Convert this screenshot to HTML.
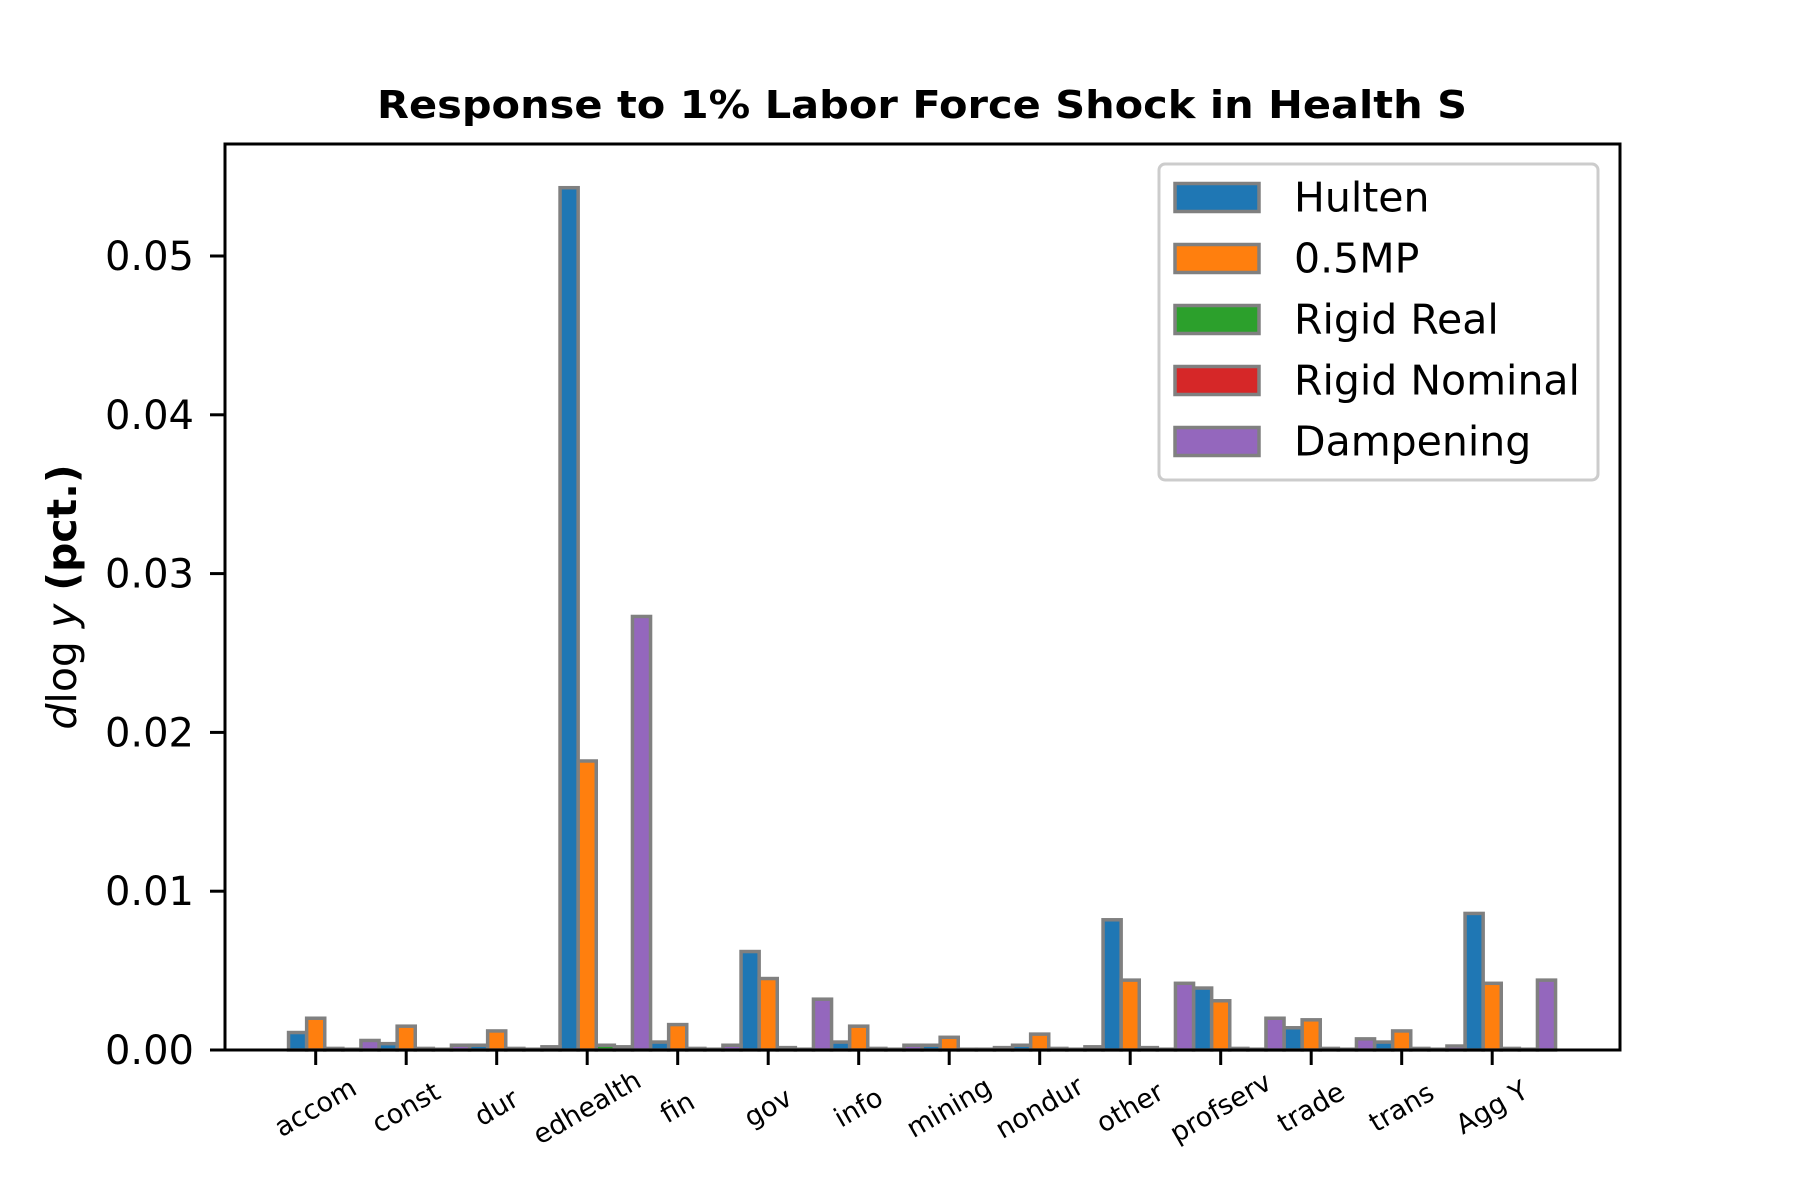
<!DOCTYPE html>
<html><head><meta charset="utf-8"><style>
html,body{margin:0;padding:0;background:#fff;}
svg{display:block;font-family:"DejaVu Sans","Liberation Sans",sans-serif;}
</style></head><body>
<svg id="chart" width="1800" height="1200" viewBox="0 0 1800 1200" xmlns="http://www.w3.org/2000/svg">
<rect width="1800" height="1200" fill="#fff"/>
<text x="922" y="118" text-anchor="middle" font-size="38" font-weight="bold" textLength="1090" lengthAdjust="spacingAndGlyphs">Response to 1% Labor Force Shock in Health S</text>
<g id="bars"></g>
<g id="yaxis"></g>
<g id="xaxis"></g>
<rect x="225" y="144" width="1395" height="906" fill="none" stroke="#000" stroke-width="3"/>
<text transform="translate(76,597) rotate(-90)" text-anchor="middle" font-size="41"><tspan font-style="italic">d</tspan>log<tspan font-style="italic"> y</tspan> <tspan font-weight="bold">(pct.)</tspan></text>
<g id="legend">
<rect x="1159" y="164" width="439" height="316" rx="6" fill="#fff" fill-opacity="0.8" stroke="#ccc" stroke-width="3"/>
</g>
</svg>
<script>
const categories = ["accom","const","dur","edhealth","fin","gov","info","mining","nondur","other","profserv","trade","trans","Agg Y"];
const seriesNames = ["Hulten","0.5MP","Rigid Real","Rigid Nominal","Dampening"];
const hulten = [1.1,0.4,0.3,54.3,0.5,6.2,0.5,0.3,0.3,8.2,3.9,1.4,0.5,8.6];
const mp = [2.0,1.5,1.2,18.2,1.6,4.5,1.5,0.8,1.0,4.4,3.1,1.9,1.2,4.2];
const rigidReal = [0.1,0.1,0.1,0.3,0.1,0.15,0.1,0.05,0.1,0.15,0.1,0.1,0.1,0.1];
const rigidNominal = [0.05,0.05,0.05,0.2,0.05,0.05,0.05,0.05,0.05,0.05,0.05,0.05,0.05,0.05];
const dampening = [0.6,0.3,0.2,27.3,0.3,3.2,0.3,0.15,0.2,4.2,2.0,0.7,0.25,4.4];
const yTicks = [0,10,20,30,40,50];
const yTickLabels = ["0.00","0.01","0.02","0.03","0.04","0.05"];

const NS="http://www.w3.org/2000/svg";
const colors=["#1f77b4","#ff7f0e","#2ca02c","#d62728","#9467bd"];
const series=[hulten,mp,rigidReal,rigidNominal,dampening];
const y0=1050, pxPer=794/50;
function yScale(v){return y0 - v*pxPer;}
const tick0=315.7, step=90.5, bw=step*0.2;
function xScale(i){return tick0 + i*step;}
function mk(tag,attrs,parent){const e=document.createElementNS(NS,tag);for(const k in attrs)e.setAttribute(k,attrs[k]);parent.appendChild(e);return e;}
const gb=document.getElementById('bars');
series.forEach((s,si)=>{
  s.forEach((v,ci)=>{
    const x=xScale(ci)+(si-1.5)*bw;
    const r=mk('rect',{x:x,y:yScale(v),width:bw,height:Math.max(0,y0-yScale(v)),fill:colors[si],stroke:'#808080','stroke-width':3.5},gb);
    
    
  });
});
const gy=document.getElementById('yaxis');
yTicks.forEach((t,i)=>{
  const y=yScale(t);
  const l=mk('line',{x1:210,x2:225,y1:y,y2:y,stroke:'#000','stroke-width':3},gy);
  
  
  const tx=mk('text',{x:194,y:y+14,'text-anchor':'end','font-size':40},gy);
  tx.textContent=yTickLabels[i];
  
  
});
const gx=document.getElementById('xaxis');
categories.forEach((c,i)=>{
  const x=xScale(i);
  const l=mk('line',{x1:x,x2:x,y1:1050,y2:1065,stroke:'#000','stroke-width':3},gx);
  
  
  const tx=mk('text',{transform:'translate('+x+',1108) rotate(-30)','text-anchor':'middle','dominant-baseline':'central','font-size':27},gx);
  tx.textContent=c;
  
  
});
const gl=document.getElementById('legend');
seriesNames.forEach((n,i)=>{
  const cy=197.5+i*61;
  const r=mk('rect',{x:1175,y:cy-14,width:84,height:28,fill:colors[i],stroke:'#808080','stroke-width':3.5},gl);
  
  
  const t=mk('text',{x:1294,y:cy+14,'font-size':41},gl);
  t.textContent=n;
  
  
});
</script>
</body></html>
